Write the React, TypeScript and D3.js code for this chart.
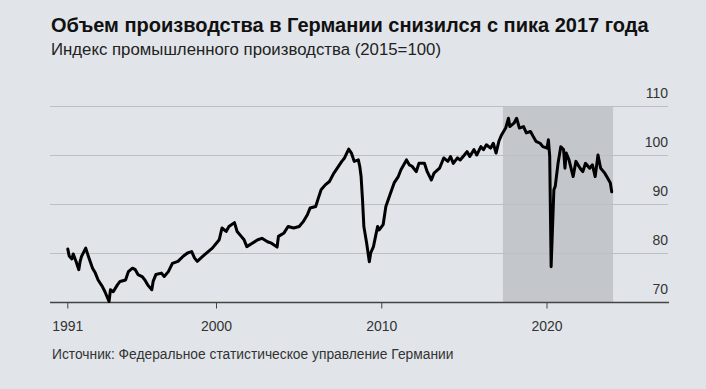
import React, { useEffect } from 'react';
import * as d3 from 'd3';

// Industrial production index, 2015=100
const months = [
  '1991-01', '1991-02', '1991-04', '1991-05', '1991-07', '1991-09', '1991-10', '1991-11',
  '1992-02', '1992-04', '1992-07', '1992-09', '1992-11',
  '1993-02', '1993-04', '1993-07', '1993-08', '1993-10',
  '1994-01', '1994-03', '1994-07', '1994-09', '1994-12',
  '1995-02', '1995-04', '1995-07', '1995-09', '1995-11',
  '1996-02', '1996-03', '1996-05', '1996-09', '1996-11',
  '1997-02', '1997-05', '1997-09',
  '1998-01', '1998-04', '1998-07', '1998-09', '1998-11',
  '1999-03', '1999-07', '1999-10',
  '2000-03', '2000-05', '2000-08', '2000-10',
  '2001-02', '2001-04', '2001-07', '2001-09', '2001-11',
  '2002-03', '2002-07', '2002-10',
  '2003-02', '2003-05', '2003-09', '2003-10',
  '2004-02', '2004-05', '2004-09',
  '2005-01', '2005-04', '2005-07', '2005-09',
  '2006-01', '2006-03', '2006-05', '2006-08', '2006-11',
  '2007-02', '2007-04', '2007-08', '2007-10',
  '2008-01', '2008-03', '2008-05', '2008-08', '2008-09', '2008-10', '2008-11', '2008-12',
  '2009-02', '2009-04', '2009-05', '2009-07', '2009-09', '2009-10', '2009-11',
  '2010-02', '2010-04', '2010-07', '2010-10',
  '2011-01', '2011-03', '2011-07', '2011-09', '2011-11',
  '2012-02', '2012-04', '2012-08', '2012-10',
  '2013-01', '2013-03', '2013-07', '2013-10',
  '2014-01', '2014-03', '2014-05', '2014-08', '2014-10',
  '2015-01', '2015-03', '2015-05', '2015-08', '2015-10',
  '2016-01', '2016-03', '2016-05', '2016-08', '2016-10', '2016-12',
  '2017-02', '2017-04', '2017-07', '2017-09', '2017-10',
  '2018-01', '2018-03', '2018-05', '2018-08', '2018-10',
  '2019-01', '2019-03', '2019-05', '2019-08', '2019-10',
  '2020-01', '2020-02', '2020-03', '2020-04', '2020-06', '2020-07', '2020-09', '2020-11',
  '2021-01', '2021-02', '2021-03', '2021-05', '2021-08', '2021-10',
  '2022-01', '2022-03', '2022-05', '2022-08', '2022-10', '2022-12',
  '2023-02', '2023-04', '2023-07', '2023-09', '2023-11', '2023-12',
];
const index = [
  80.9, 79.5, 78.9, 79.9, 78.4, 76.7, 78.4, 79.4,
  81.1, 79.4, 77.0, 76.0, 74.6,
  73.3, 72.2, 70.2, 72.6, 72.2,
  73.6, 74.3, 74.6, 76.3, 77.0,
  76.7, 75.7, 75.3, 74.6, 73.6,
  72.6, 74.3, 75.7, 76.0, 75.3,
  76.3, 78.0, 78.4,
  79.5, 80.1, 80.4, 79.1, 78.4,
  79.4, 80.4, 81.1,
  82.8, 85.2, 84.5, 85.5,
  86.3, 84.5, 83.5, 82.8, 81.4,
  82.1, 82.8, 83.1,
  82.4, 82.1, 81.3, 83.5,
  84.2, 85.5, 85.2,
  85.5, 86.5, 87.9, 89.3,
  89.6, 91.3, 93.0, 94.0, 94.7,
  96.3, 97.1, 98.8, 99.5,
  101.3, 100.5, 98.8, 99.1, 97.8, 95.7, 91.0, 85.5,
  82.1, 78.3, 80.1, 81.4, 84.2, 85.5, 84.8,
  85.9, 89.6, 92.0, 94.4,
  95.7, 97.1, 99.1, 98.1, 97.8,
  96.7, 98.4, 98.4, 96.7,
  95.0, 96.4, 97.4, 99.5,
  98.8, 99.8, 98.4, 99.5, 99.1,
  100.1, 100.8, 99.8, 101.2, 100.1,
  101.8, 101.2, 102.2, 101.5, 102.5, 100.5,
  102.9, 104.2, 105.6, 107.6, 105.9,
  106.6, 107.6, 105.6, 105.9, 104.6,
  104.9, 103.9, 102.9, 102.5, 101.8,
  101.5, 103.2, 99.8, 77.3, 93.0, 93.7, 98.4, 101.8,
  101.2, 97.4, 100.5, 99.1, 95.7, 98.8,
  97.4, 96.7, 98.4, 97.4, 98.1, 95.7,
  100.1, 97.4, 96.4, 95.4, 94.4, 92.6,
];

const yTicks = [70, 80, 90, 100, 110];
const xTicks = ['1991', '2000', '2010', '2020'];
const shadeStart = '2017-05';
const shadeEnd = '2024-01';

const W = 706, H = 389;
const BG = '#e1e5e9';
const FONT = '"Liberation Sans", Arial, sans-serif';

export default function App() {
  useEffect(() => {
    document.body.style.margin = '0';
    document.body.style.background = BG;
  }, []);

  const parse = d3.timeParse('%Y-%m');
  const data = months.map((m, i) => ({ date: parse(m) as Date, value: index[i] }));

  const x = d3.scaleTime()
    .domain([new Date(1991, 0, 1), new Date(2024, 0, 1)])
    .range([67.8, 613.1]);
  const y = d3.scaleLinear().domain([70, 110]).range([302.5, 106.5]);

  const line = d3.line<{ date: Date; value: number }>()
    .x(d => x(d.date))
    .y(d => y(d.value));

  const gridL = 50, gridR = 668;
  const s0 = x(parse(shadeStart) as Date), s1 = x(parse(shadeEnd) as Date);

  return (
    <svg width={W} height={H} style={{ display: 'block', background: BG }} fontFamily={FONT}>
      <rect width={W} height={H} fill={BG} />
      <text x={51} y={32} fontSize={20} fontWeight="bold" fill="#111">
        Объем производства в Германии снизился с пика 2017 года
      </text>
      <text x={51} y={55} fontSize={16.8} fill="#222">
        Индекс промышленного производства (2015=100)
      </text>

      {/* shaded period */}
      <rect x={s0} y={y(110)} width={s1 - s0} height={y(70) - y(110)} fill="#c3c6ca" />

      {/* grid + y labels */}
      {yTicks.map(t => (
        <g key={t}>
          {t !== 70 && (
            <line x1={gridL} x2={gridR} y1={y(t)} y2={y(t)} stroke="#bcbfc3" strokeWidth={1} />
          )}
          <text x={gridR} y={y(t) - 9} textAnchor="end" fontSize={14} fill="#333">
            {t}
          </text>
        </g>
      ))}

      {/* x axis */}
      <line x1={gridL} x2={669} y1={y(70)} y2={y(70)} stroke="#444" strokeWidth={1.5} />
      {xTicks.map(t => {
        const px = x(new Date(+t, 0, 1));
        return (
          <g key={t}>
            <line x1={px} x2={px} y1={y(70)} y2={y(70) + 6} stroke="#444" strokeWidth={1} />
            <text x={px} y={331} textAnchor="middle" fontSize={14} fill="#333">
              {t}
            </text>
          </g>
        );
      })}

      <path d={line(data) || ''} fill="none" stroke="#000" strokeWidth={3}
        strokeLinejoin="round" strokeLinecap="round" />

      <text x={52} y={359} fontSize={13.8} fill="#333">
        Источник: Федеральное статистическое управление Германии
      </text>
    </svg>
  );
}
